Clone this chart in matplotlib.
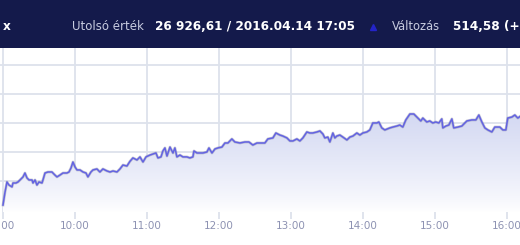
import matplotlib.pyplot as plt
import numpy as np
from matplotlib.patches import Polygon

# minutes after 9:00 and index value (BUX intraday)
minutes = [0, 1.7, 3.3, 5, 7.5, 8.3, 10.8, 12.5, 15, 16.7, 18.3, 20, 21.7, 24.2, 25, 26.7,
           28.3, 30, 32.5, 33.3, 35, 37.5, 40.8, 43.3, 45, 47.5, 50, 53.3, 55, 56.7, 58.3,
           60, 61.7, 64.2, 66.7, 69.2, 70.8, 73.3, 75, 78.3, 80.8, 83.3, 86.7, 89.2, 91.7,
           95, 97.5, 100, 103.3, 105.8, 108.3, 111.7, 114.2, 116.7, 119.2, 122.5, 125,
           127.5, 129.2, 131.7, 133.3, 135, 136.7, 139.2, 141.7, 143.3, 145, 147.5, 150,
           153.3, 155.8, 158.3, 159.2, 161.7, 164.2, 166.7, 170, 171.7, 174.2, 176.7,
           179.2, 182.5, 185, 187.5, 190.8, 193.3, 197.5, 201.7, 205, 208.3, 211.7, 214.2,
           218.3, 220.8, 225, 227.5, 230.8, 233.3, 236.7, 239.2, 241.7, 245, 247.5, 250,
           253.3, 255.8, 258.3, 261.7, 264.2, 266.7, 268.3, 270.8, 272.5, 275, 276.7,
           278.3, 280.8, 283.3, 286.7, 289.2, 291.7, 295, 297.5, 300, 303.3, 305.8, 308.3,
           311.7, 313.3, 315.8, 318.3, 322.5, 325, 328.3, 330.8, 333.3, 335.8, 339.2,
           342.5, 345, 348.3, 350, 353.3, 355.8, 358.3, 360.8, 363.3, 365.8, 366.7, 369.2,
           371.7, 374.2, 375.8, 379.2, 382.5, 386.7, 390.8, 394.2, 396.7, 399.2, 401.7,
           404.2, 407.5, 410, 414.2, 416.7, 419.2, 420.8, 424.2, 426.7, 429.2, 431]
values = [26234, 26324, 26393, 26372, 26359, 26386, 26386, 26393, 26414, 26428, 26455,
          26421, 26407, 26407, 26386, 26407, 26372, 26393, 26386, 26407, 26455, 26462,
          26462, 26441, 26428, 26441, 26455, 26455, 26462, 26490, 26531, 26497, 26476,
          26476, 26462, 26455, 26428, 26462, 26476, 26483, 26462, 26483, 26469, 26462,
          26469, 26462, 26483, 26510, 26503, 26535, 26559, 26545, 26566, 26531, 26566,
          26579, 26586, 26593, 26559, 26566, 26607, 26628, 26572, 26634, 26593, 26628,
          26566, 26579, 26566, 26566, 26559, 26566, 26607, 26593, 26593, 26593, 26600,
          26628, 26593, 26621, 26628, 26634, 26662, 26662, 26690, 26669, 26662, 26669,
          26669, 26648, 26662, 26662, 26662, 26690, 26697, 26731, 26717, 26710, 26697,
          26676, 26676, 26690, 26676, 26697, 26738, 26731, 26731, 26738, 26745, 26724,
          26697, 26703, 26669, 26731, 26697, 26710, 26717, 26703, 26683, 26703, 26710,
          26731, 26717, 26731, 26738, 26752, 26800, 26800, 26807, 26766, 26752, 26766,
          26772, 26779, 26786, 26772, 26821, 26862, 26862, 26841, 26814, 26834, 26807,
          26814, 26800, 26807, 26800, 26828, 26766, 26779, 26786, 26828, 26766, 26772,
          26779, 26814, 26821, 26821, 26855, 26807, 26766, 26752, 26738, 26772, 26772,
          26752, 26752, 26834, 26841, 26855, 26834, 26845]

hour_ticks = [9, 10, 11, 12, 13, 14, 15, 16]
hour_labels = ["9:00", "10:00", "11:00", "12:00", "13:00", "14:00", "15:00", "16:00"]
grid_levels = [26400, 26600, 26800, 27000, 27200]

last_value = "26 926,61 / 2016.04.14 17:05"
change = "514,58 (+1,95%)"

W, H = 520, 245
fig = plt.figure(figsize=(W / 100, H / 100), dpi=100)
fig.patch.set_facecolor("white")

hours = 9 + np.array(minutes) / 60.0
vals = np.array(values)

ax = fig.add_axes([0, 1 - 212 / H, 1, (212 - 48) / H])
x0, x1 = 9 - 2.5 / 60, 9 + 431 / 60
y0, y1 = 26186, 27317

# gridlines
for lvl in grid_levels:
    ax.axhline(lvl, color="#dde2ec", lw=1.3, zorder=1)
for h in hour_ticks:
    ax.axvline(h, color="#dde2ec", lw=1.3, zorder=1)

# gradient fill under the line
grad = np.linspace(0, 1, 256).reshape(-1, 1)
c_top = np.array([0.83, 0.85, 0.95])
c_bot = np.array([1.0, 1.0, 1.0])
img = c_bot + (c_top - c_bot) * (grad ** 0.8)[..., None] * np.ones((1, 1, 3))
im = ax.imshow(img, extent=[x0, x1, y0, vals.max()], origin="lower", aspect="auto", zorder=2)
poly = Polygon(np.column_stack([np.r_[hours[0], hours, hours[-1]], np.r_[y0, vals, y0]]),
               closed=True, facecolor="none", edgecolor="none")
ax.add_patch(poly)
im.set_clip_path(poly)
ax.set_xlim(x0, x1)
ax.set_ylim(y0, y1)

ax.plot(hours, vals, color="#8888a4", lw=2.0, alpha=0.45, zorder=3)
ax.plot(hours, vals, color="#6363e2", lw=1.1, zorder=4)

for s in ax.spines.values():
    s.set_visible(False)
ax.set_yticks([])
ax.set_xticks(hour_ticks)
ax.set_xticklabels(hour_labels)
ax.tick_params(axis="x", length=5, width=1.3, color="#dde2ec", labelcolor="#8d92b2",
               labelsize=7.5, pad=1.5)

# header band
hdr = fig.add_axes([0, 1 - 48 / H, 1, 48 / H])
hdr.set_xlim(0, W)
hdr.set_ylim(48, 0)
hdr.set_facecolor("#141a4b")
hdr.set_xticks([])
hdr.set_yticks([])
for s in hdr.spines.values():
    s.set_visible(False)

ty = 26
hdr.text(3, ty, "x", color="white", fontsize=8.7, fontweight="bold", va="center")
hdr.text(72, ty, "Utolsó érték", color="#c8cce0", fontsize=8.5, va="center")
hdr.text(155, ty, last_value, color="white", fontsize=8.7, fontweight="bold", va="center")
hdr.plot([373], [27], marker="^", color="#2424c8", markersize=5, ls="none")
hdr.text(392, ty, "Változás", color="#c8cce0", fontsize=8.3, va="center")
hdr.text(453, ty, change, color="white", fontsize=8.7, fontweight="bold", va="center",
         clip_on=True)

fig.savefig("out.png", dpi=100, facecolor=fig.get_facecolor())
